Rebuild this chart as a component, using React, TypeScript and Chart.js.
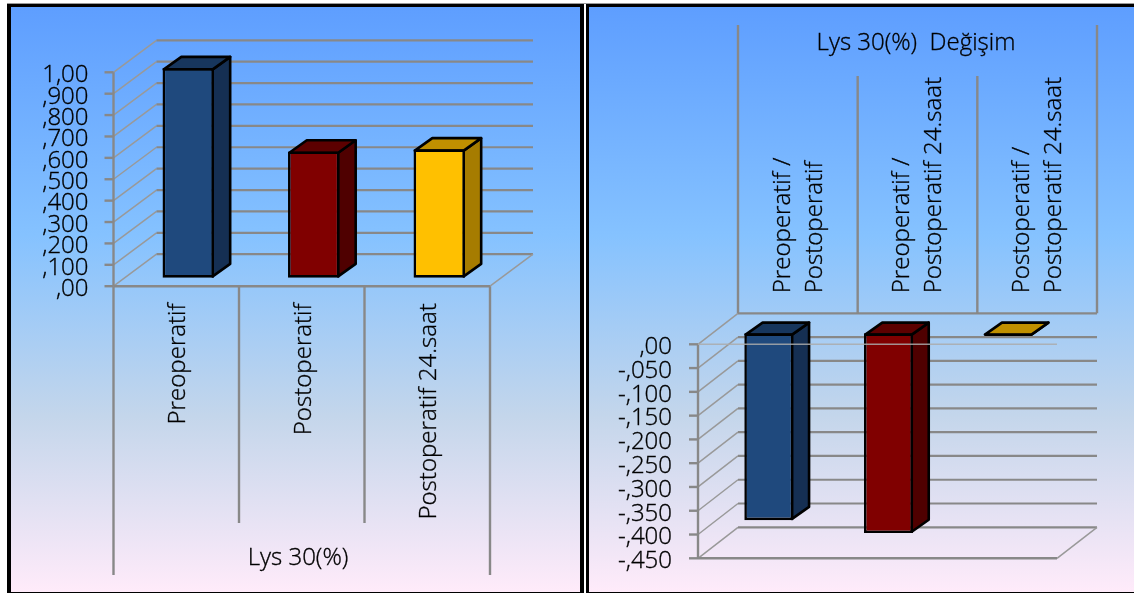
import React, { useEffect, useRef } from "react";
import { Chart, registerables } from "chart.js";

Chart.register(...registerables);

// Pre/post-operative Lys 30(%) levels
const levelCategories = ["Preoperatif", "Postoperatif", "Postoperatif 24.saat"];
const levelValues = [0.98, 0.59, 0.6];
const levelTickLabels = [",00", ",100", ",200", ",300", ",400", ",500", ",600", ",700", ",800", ",900", "1,00"];

// Change in Lys 30(%) between the time points
const changeCategories = [
  ["Preoperatif /", "Postoperatif"],
  ["Preoperatif /", "Postoperatif 24.saat"],
  ["Postoperatif /", "Postoperatif 24.saat"],
];
const changeValues = [-0.393, -0.42, -0.001];
const changeTickLabels = ["-,450", "-,400", "-,350", "-,300", "-,250", "-,200", "-,150", "-,100", "-,050", ",00"];

const levelTitle = "Lys 30(%)";
const changeTitle = "Lys 30(%)  Değişim";

const frontColors = ["#1F497D", "#800000", "#FFC000"];
const sideColors = ["#152F53", "#4F0000", "#A67C00"];
const topColors = ["#17365D", "#5C0000", "#C09000"];

const GRID = "#888888";
const FONT = "'Open Sans', sans-serif";
const WEIGHT = 300;
const TEXT_STROKE = 0.35;

type Frame = {
  width: number;
  height: number;
  originX: number;
  originY: number;
  areaLeft: number;
  areaRight: number;
  areaTop: number;
  areaBottom: number;
  wall: [number, number];
  bar: [number, number];
  shift: [number, number];
  barPercentage: number;
  flipped: boolean;
  tickPadding: number;
  labelPadding: number;
  labelOffset: number;
  lineHeight: number;
  outerEnd: number;
  innerEnd: number;
  title: string;
  titleX: number;
  titleY: number;
  fontSize: number;
  titleSize: number;
};

function line(ctx: CanvasRenderingContext2D, pts: number[][], width: number, color = GRID) {
  ctx.beginPath();
  pts.forEach(([x, y], i) => (i ? ctx.lineTo(x, y) : ctx.moveTo(x, y)));
  ctx.lineWidth = width;
  ctx.strokeStyle = color;
  ctx.stroke();
}

function face(ctx: CanvasRenderingContext2D, pts: number[][], fill: string) {
  ctx.beginPath();
  pts.forEach(([x, y], i) => (i ? ctx.lineTo(x, y) : ctx.moveTo(x, y)));
  ctx.closePath();
  ctx.fillStyle = fill;
  ctx.fill();
  ctx.lineWidth = 2.6;
  ctx.strokeStyle = "#000";
  ctx.lineJoin = "round";
  ctx.stroke();
}

// Draws the back wall, floor, value axis, category dividers and the extruded faces of each bar.
const perspective = (f: Frame) => ({
  id: "perspective",
  beforeDatasetsDraw(chart: any) {
    const { ctx, chartArea: a, scales } = chart;
    const [dx, dy] = f.wall;
    ctx.save();
    scales.y.ticks.forEach((t: any) => {
      const y = scales.y.getPixelForValue(t.value);
      line(ctx, [[a.left, y], [a.left + dx, y + dy]], 1.5, "#999999");
      line(ctx, [[a.left + dx, y + dy], [a.right + dx, y + dy]], 2.2);
      line(ctx, [[a.left - 9, y], [a.left, y]], 2.4);
    });
    line(ctx, [[a.left, a.top], [a.left, a.bottom]], 2.4);
    line(ctx, [[a.right, a.bottom], [a.right + dx, a.bottom + dy]], 1.5, "#999999");
    line(ctx, [[a.left, a.bottom], [a.right, a.bottom]], 2.4);

    // Category dividers run away from the axis, next to the tick labels
    const n = chart.data.labels.length;
    const step = (a.right - a.left) / n;
    for (let i = 0; i <= n; i++) {
      const outer = i === 0 || i === n;
      const end = (outer ? f.outerEnd : f.innerEnd) - f.originY;
      if (f.flipped) {
        const x = a.left + dx + i * step;
        line(ctx, [[x, a.top + dy], [x, end]], 2.4);
      } else {
        const x = a.left + i * step;
        line(ctx, [[x, a.bottom], [x, end]], 2.4);
      }
    }

    ctx.translate(f.shift[0], f.shift[1]);
    const [bx, by] = f.bar;
    chart.getDatasetMeta(0).data.forEach((el: any, i: number) => {
      const p = el.getProps(["x", "y", "base", "width"], true);
      const l = p.x - p.width / 2 + 1.3;
      const r = p.x + p.width / 2 - 1.3;
      const top = Math.min(p.y, p.base) + 1.3;
      const bot = Math.max(p.y, p.base) - 1.3;
      face(ctx, [[r, top], [r + bx, top + by], [r + bx, Math.max(bot, top) + by], [r, Math.max(bot, top)]], sideColors[i]);
      face(ctx, [[l, top], [r, top], [r + bx, top + by], [l + bx, top + by]], topColors[i]);
    });
  },
  afterDatasetsDraw(chart: any) {
    chart.ctx.restore();
  },
  afterDraw(chart: any) {
    const { ctx, chartArea: a } = chart;
    if (f.flipped) {
      // The front edge at zero passes in front of the bars
      ctx.save();
      line(ctx, [[a.left, a.top], [a.right, a.top]], 1.5, "rgba(170,170,170,0.85)");
      ctx.restore();
    }
    ctx.save();
    ctx.fillStyle = "#000";
    ctx.strokeStyle = "#000";
    ctx.lineWidth = TEXT_STROKE;
    ctx.font = `${WEIGHT} ${f.titleSize}px ${FONT}`;
    ctx.textAlign = "center";
    ctx.textBaseline = "middle";
    ctx.fillText(f.title, f.titleX - f.originX, f.titleY - f.originY);
    ctx.strokeText(f.title, f.titleX - f.originX, f.titleY - f.originY);
    ctx.restore();
  },
});

function buildConfig(f: Frame, labels: any[], values: number[], ticks: string[], min: number, max: number, step: number): any {
  const xHeight = f.flipped ? f.areaTop - f.originY : f.originY + f.height - f.areaBottom;
  return {
    type: "bar",
    data: {
      labels,
      datasets: [
        {
          data: values,
          backgroundColor: frontColors,
          borderColor: "#000",
          borderWidth: 2.6,
          borderSkipped: false,
          barPercentage: f.barPercentage,
          categoryPercentage: 1,
          clip: false,
        },
      ],
    },
    options: {
      animation: false,
      responsive: false,
      maintainAspectRatio: false,
      layout: {
        autoPadding: false,
        padding: {
          left: 0,
          top: f.flipped ? 0 : f.areaTop - f.originY,
          right: f.originX + f.width - f.areaRight,
          bottom: f.flipped ? f.originY + f.height - f.areaBottom : 0,
        },
      },
      plugins: { legend: { display: false }, tooltip: { enabled: false } },
      scales: {
        x: {
          position: f.flipped ? "top" : "bottom",
          grid: { display: false, drawTicks: false },
          border: { display: false },
          afterFit(s: any) {
            s.height = xHeight;
          },
          ticks: {
            autoSkip: false,
            minRotation: 90,
            maxRotation: 90,
            padding: f.labelPadding,
            labelOffset: f.labelOffset,
            color: "#000",
            textStrokeColor: "#000",
            textStrokeWidth: TEXT_STROKE,
            font: { family: FONT, size: f.fontSize, lineHeight: f.lineHeight, weight: WEIGHT },
          },
        },
        y: {
          min,
          max,
          afterFit(s: any) {
            s.width = f.areaLeft - f.originX;
            // The large tick padding must not shrink the plot area vertically
            s.paddingTop = 0;
            s.paddingBottom = 0;
          },
          grid: { display: false, drawTicks: false },
          border: { display: false },
          ticks: {
            stepSize: step,
            autoSkip: false,
            padding: f.tickPadding,
            labelOffset: 3,
            color: "#000",
            textStrokeColor: "#000",
            textStrokeWidth: TEXT_STROKE,
            font: { family: FONT, size: 24, weight: WEIGHT },
            callback: (_v: any, i: number) => ticks[i],
          },
        },
      },
    },
    plugins: [perspective(f)],
  };
}

const leftFrame: Frame = {
  width: 569, height: 585, originX: 11, originY: 7,
  areaLeft: 113.5, areaRight: 490, areaTop: 72.3, areaBottom: 286.2,
  wall: [43, -32], bar: [17.5, -12.5], shift: [12, -8.5], barPercentage: 0.41,
  flipped: false, tickPadding: 25, labelPadding: 17, labelOffset: 2, lineHeight: 1.2,
  outerEnd: 575, innerEnd: 523, title: levelTitle, titleX: 298, titleY: 558, fontSize: 24.1, titleSize: 24,
};

const rightFrame: Frame = {
  width: 545, height: 585, originX: 589, originY: 7,
  areaLeft: 698, areaRight: 1057, areaTop: 344.3, areaBottom: 558.3,
  wall: [40, -31], bar: [17, -12], shift: [11, -11], barPercentage: 0.41,
  flipped: true, tickPadding: 26, labelPadding: 51, labelOffset: 89, lineHeight: 1.33,
  outerEnd: 25, innerEnd: 76, title: changeTitle, titleX: 916, titleY: 43, fontSize: 24.1, titleSize: 24,
};

function Panel({ frame, labels, values, ticks, min, max, step }: any) {
  const ref = useRef<HTMLCanvasElement>(null);
  useEffect(() => {
    const chart = new Chart(ref.current!, buildConfig(frame, labels, values, ticks, min, max, step));
    return () => chart.destroy();
  }, []);
  return (
    <canvas
      ref={ref}
      width={frame.width}
      height={frame.height}
      style={{ position: "absolute", left: frame.originX, top: frame.originY, width: frame.width, height: frame.height }}
    />
  );
}

const gradient = "linear-gradient(180deg, #5E9EFF 0%, #85C2FF 39%, #C4D6EB 70%, #FFEBFA 100%)";
const panelBox = (left: number, width: number, bl: number, br: number): React.CSSProperties => ({
  position: "absolute",
  left,
  top: 4,
  width,
  height: 589,
  boxSizing: "border-box",
  background: gradient,
  backgroundClip: "padding-box",
  borderStyle: "solid",
  borderColor: "#000",
  borderWidth: `3px ${br}px 1px ${bl}px`,
});

export default function App() {
  return (
    <div style={{ position: "fixed", left: 0, top: 0, width: 1134, height: 593, background: "#fff", overflow: "hidden" }}>
      <div style={{ position: "absolute", left: 7, top: 3, width: 1127, height: 1, background: "#999" }} />
      <div style={panelBox(7, 577, 4, 4)} />
      <div style={panelBox(585.5, 548.5, 3.5, 0)} />
      <Panel frame={leftFrame} labels={levelCategories} values={levelValues} ticks={levelTickLabels} min={0} max={1} step={0.1} />
      <Panel frame={rightFrame} labels={changeCategories} values={changeValues} ticks={changeTickLabels} min={-0.45} max={0} step={0.05} />
    </div>
  );
}
